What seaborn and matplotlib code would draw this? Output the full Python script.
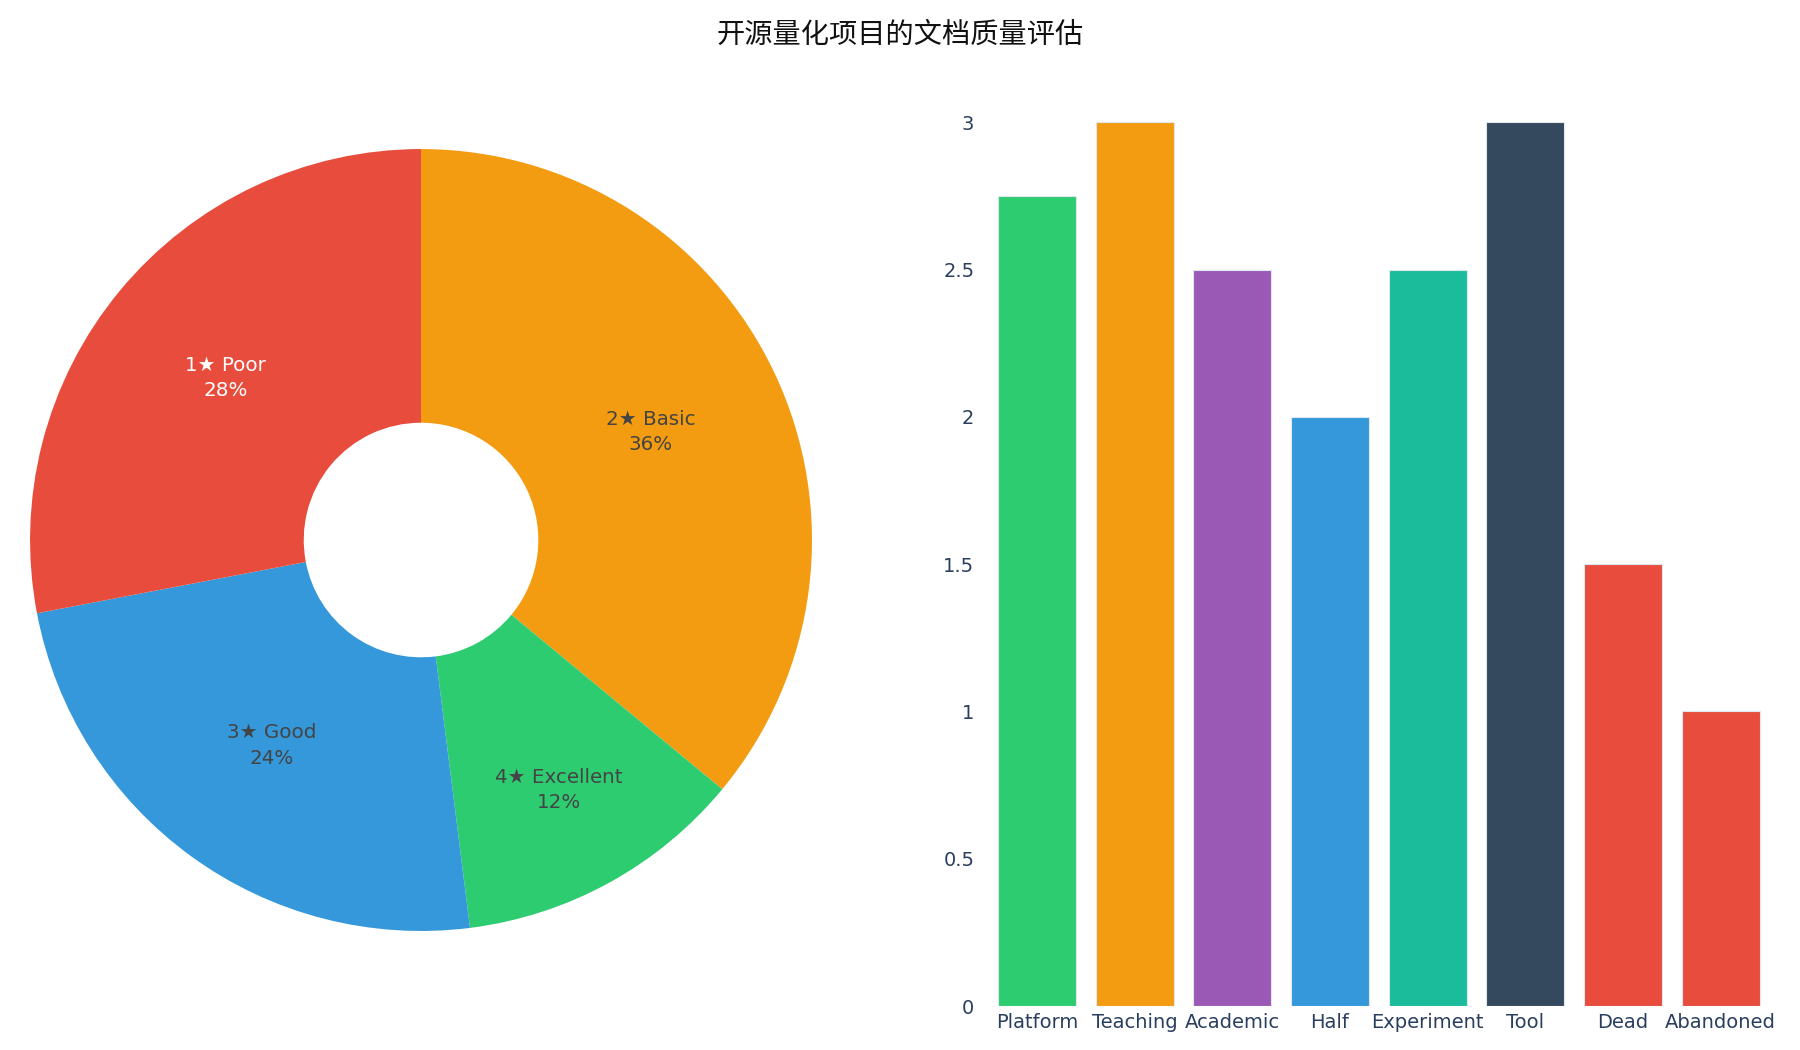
import matplotlib
matplotlib.use("Agg")
import matplotlib.pyplot as plt
from matplotlib.ticker import FuncFormatter
import pandas as pd
import seaborn as sns

# Pie: documentation star ratings (clockwise from 12 o'clock)
rating_labels = ["2★ Basic", "4★ Excellent", "3★ Good", "1★ Poor"]
rating_share = [36, 12, 24, 28]
rating_colors = ["#f39c12", "#2ecc71", "#3498db", "#e74c3c"]
rating_text_colors = ["#444444", "#444444", "#444444", "#ffffff"]

# Bars: doc score per project type
project_types = ["Platform", "Teaching", "Academic", "Half", "Experiment",
                 "Tool", "Dead", "Abandoned"]
doc_scores = [2.75, 3, 2.5, 2, 2.5, 3, 1.5, 1]
bar_colors = ["#2ecc71", "#f39c12", "#9b59b6", "#3498db", "#1abc9c",
              "#34495e", "#e74c3c", "#e74c3c"]

title = "开源量化项目的文档质量评估"

sns.set_theme(style="white")
plt.rcParams["font.family"] = ["DejaVu Sans", "Noto Sans CJK SC"]

fig = plt.figure(figsize=(18, 10.5), dpi=100)

# donut
ax_pie = fig.add_axes([0.0167, 0.1133, 0.4344, 0.7448])
wedges, texts, autotexts = ax_pie.pie(
    rating_share, colors=rating_colors, startangle=90, counterclock=False,
    radius=1, pctdistance=0.65, autopct=lambda p: "",
    wedgeprops=dict(width=0.7, linewidth=0),
)
for at, lab, val, tc in zip(autotexts, rating_labels, rating_share, rating_text_colors):
    at.set_text(f"{lab}\n{val}%")
    at.set_color(tc)
    at.set_fontsize(14.3)
    at.set_linespacing(1.45)
# the small slice label sits further out
x, y = autotexts[1].get_position()
autotexts[1].set_position((x * 0.73 / 0.65, y * 0.73 / 0.65))
ax_pie.set_xlim(-1, 1)
ax_pie.set_ylim(-1, 1)
ax_pie.set_aspect("equal")

# bars
df = pd.DataFrame({"type": project_types, "score": doc_scores})
ax_bar = fig.add_axes([0.549, 0.0419, 0.434, 0.886])
sns.barplot(data=df, x="type", y="score", hue="type", palette=bar_colors,
            legend=False, width=0.8, saturation=1, ax=ax_bar,
            edgecolor="#dfe6ee", linewidth=0.8)
ax_bar.set_xlim(-0.5, len(project_types) - 0.5)
ax_bar.set_ylim(0, 3.158)
ax_bar.set_yticks([0, 0.5, 1, 1.5, 2, 2.5, 3])
ax_bar.yaxis.set_major_formatter(FuncFormatter(lambda v, p: f"{v:g}"))
ax_bar.set_xlabel("")
ax_bar.set_ylabel("")
ax_bar.tick_params(axis="both", length=0, labelsize=14, colors="#2a3f5f")
ax_bar.tick_params(axis="y", pad=10)
ax_bar.tick_params(axis="x", pad=5)
for s in ax_bar.spines.values():
    s.set_visible(False)
ax_bar.grid(False)

fig.text(0.5, 0.967, title, ha="center", va="center", fontsize=20.3,
         color="#111111", family=["Noto Sans CJK SC", "DejaVu Sans"])

fig.savefig("out.png", dpi=100, facecolor="white")
